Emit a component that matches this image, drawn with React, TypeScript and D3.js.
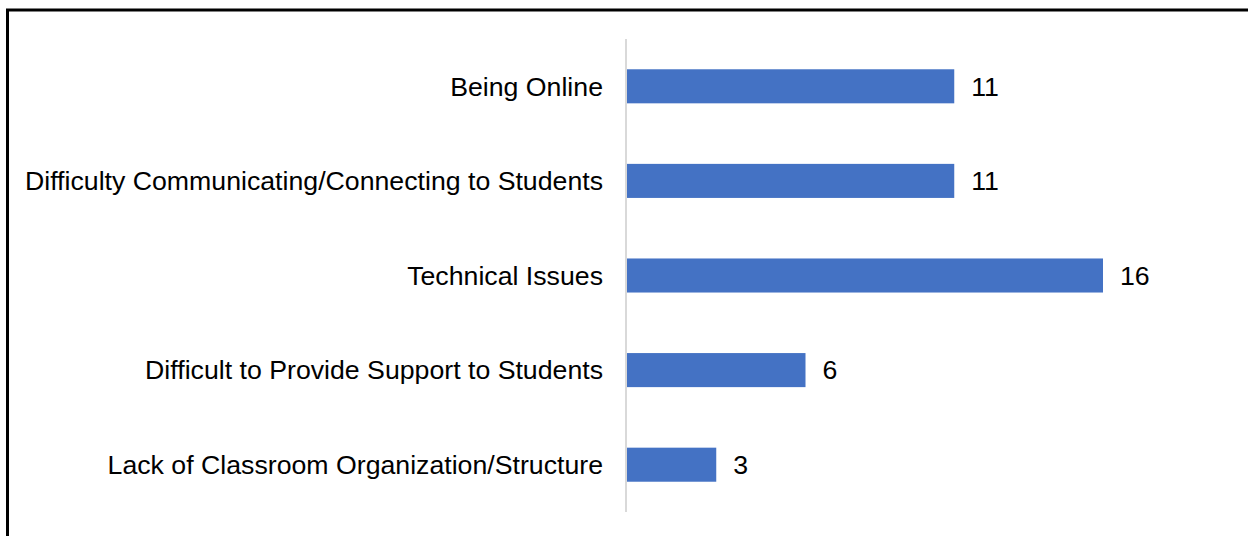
import React from "react";
import * as d3 from "d3";

const categories = [
  "Being Online",
  "Difficulty Communicating/Connecting to Students",
  "Technical Issues",
  "Difficult to Provide Support to Students",
  "Lack of Classroom Organization/Structure",
];
const values = [11, 11, 16, 6, 3];

const width = 1248;
const height = 536;
const axisX = 626;
const font = "'Liberation Sans', Arial, sans-serif";

const App: React.FC = () => {
  const y = d3
    .scaleBand<string>()
    .domain(categories)
    .range([39, 512])
    .paddingInner(0.64)
    .paddingOuter(0.32);
  const x = d3.scaleLinear().domain([0, 16]).range([axisX + 1, 1103]);

  return (
    <svg
      width={width}
      height={height}
      style={{ position: "absolute", left: 0, top: 0, background: "#fff" }}
    >
      <rect x={7.5} y={10} width={1300} height={600} fill="none" stroke="#000" strokeWidth={3} />
      {categories.map((c, i) => (
        <g key={c}>
          <rect
            x={x(0)}
            y={y(c)!}
            width={x(values[i]) - x(0)}
            height={y.bandwidth()}
            fill="#4472c4"
          />
          <text
            x={axisX - 23}
            y={y(c)! + y.bandwidth() / 2}
            dy="0.35em"
            textAnchor="end"
            fontFamily={font}
            fontSize={26.7}
            fill="#000"
          >
            {c}
          </text>
          <text
            x={x(values[i]) + 17}
            y={y(c)! + y.bandwidth() / 2}
            dy="0.35em"
            fontFamily={font}
            fontSize={26.7}
            fill="#000"
          >
            {values[i]}
          </text>
        </g>
      ))}
      <line x1={axisX} x2={axisX} y1={39} y2={512} stroke="#d9d9d9" strokeWidth={2} />
    </svg>
  );
};

export default App;
